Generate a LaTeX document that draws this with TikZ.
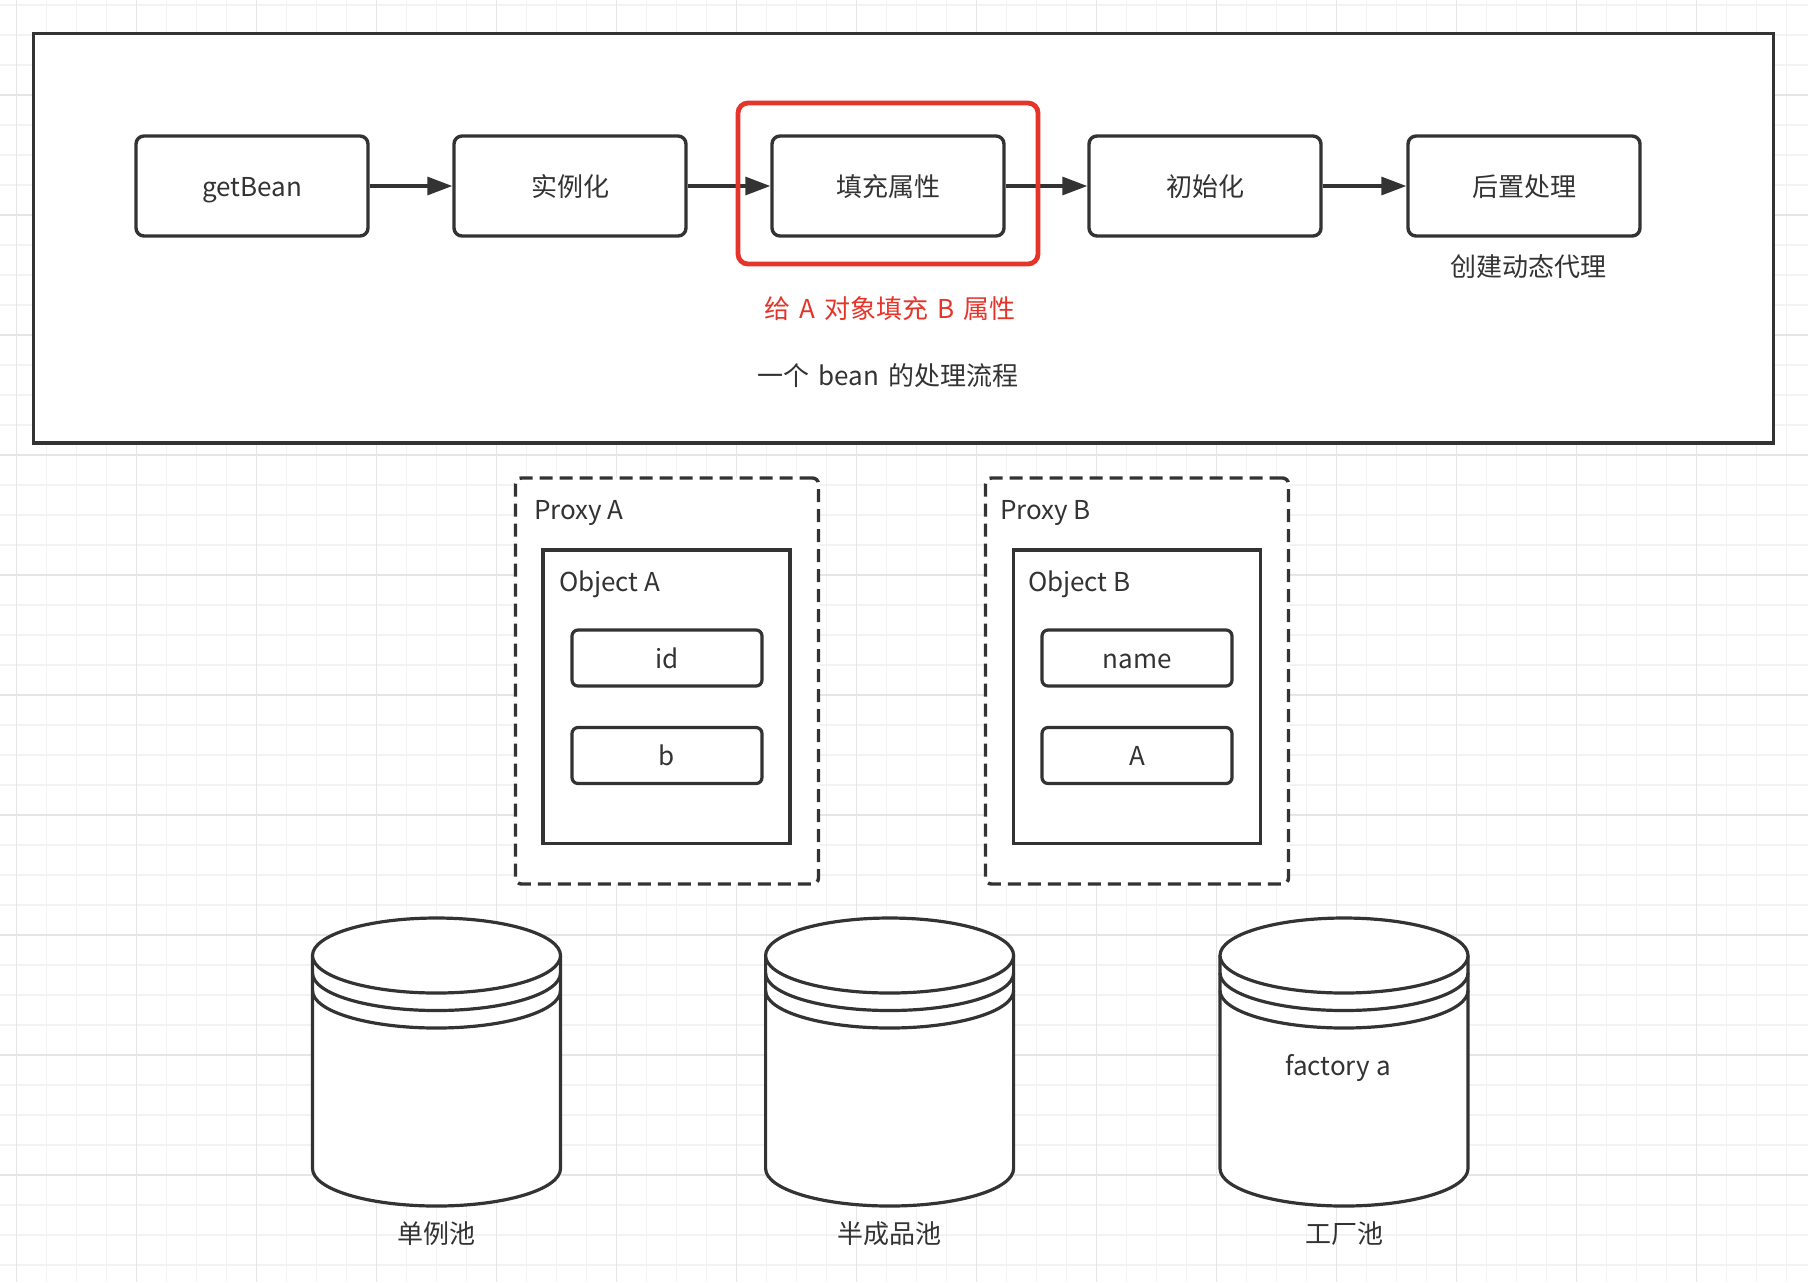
\documentclass[tikz,border=0pt]{standalone}
\usepackage{fontspec}
\setmainfont{Noto Sans CJK SC}
\usetikzlibrary{arrows.meta, positioning}
\definecolor{ink}{HTML}{333333}
\definecolor{hlred}{HTML}{E5352B}
\definecolor{gridmin}{HTML}{F3F3F3}
\definecolor{gridmaj}{HTML}{E6E6E6}
\newcommand{\widespace}{\spaceskip=0.34em\relax}
\tikzset{
  txt/.style={text=ink, font=\fontsize{13}{15}\selectfont, text height=10pt, text depth=0pt},
  wide/.style={execute at begin node=\widespace},
  flowbox/.style={txt, draw=ink, line width=1.7pt, rounded corners=4pt, fill=white, minimum width=116pt, minimum height=50pt},
  hlbox/.style={draw=hlred, line width=2.4pt, rounded corners=5pt, minimum width=150pt, minimum height=80.5pt},
  proxybox/.style={draw=ink, line width=1.7pt, dash pattern=on 6.5pt off 3.5pt, rounded corners=3pt, fill=white, minimum width=151.5pt, minimum height=203pt},
  objbox/.style={draw=ink, line width=1.6pt, fill=white, minimum width=123.5pt, minimum height=146.75pt},
  fieldbox/.style={txt, draw=ink, line width=1.6pt, rounded corners=3pt, fill=white, minimum width=95pt, minimum height=28pt},
  pool/.style={draw=ink, line width=1.6pt, fill=white},
  arr/.style={draw=ink, line width=1.6pt, -{Triangle[length=12.5pt, width=9pt]}}
}
\begin{document}
\begin{tikzpicture}[x=0.5pt, y=-0.5pt]
    \useasboundingbox (0,0) rectangle (1808,1282);
    % grid paper
    \foreach \i in {0,...,60} \draw[gridmin, line width=0.6pt] (16.7+30*\i,0) -- (16.7+30*\i,1282);
    \foreach \j in {0,...,42} \draw[gridmin, line width=0.6pt] (0,5+30*\j) -- (1808,5+30*\j);
    \foreach \i in {0,...,15} \draw[gridmaj, line width=0.7pt] (16.7+120*\i,0) -- (16.7+120*\i,1282);
    \foreach \j in {0,...,10} \draw[gridmaj, line width=0.7pt] (0,95+120*\j) -- (1808,95+120*\j);

    % bean lifecycle
    \node[draw=ink, line width=1.8pt, fill=white, minimum width=870pt, minimum height=204.8pt] (frame) at (903.5,238.2) {};
    \foreach \n/\x/\lab in {get/252/getBean, inst/570/实例化, fill/888/填充属性, init/1205/初始化, post/1524/后置处理} {
        \node[flowbox] (\n) at (\x,186) {\lab};
    }
    \foreach \a/\b in {get/inst, inst/fill, fill/init, init/post} {
        \draw[arr] (\a) -- (\b);
    }
    \node[hlbox] (fillhl) at (888,183.5) {};
    \node[txt, wide, text=hlred] (fillnote) at (890,308) {给 A 对象填充 B 属性};
    \node[txt] (proxynote) at (1528,266) {创建动态代理};
    \node[txt, wide] (caption) at (888,375) {一个 bean 的处理流程};

    % proxies
    \node[proxybox] (proxyA) at (667,681) {};
    \node[txt, anchor=west] (proxyAlab) at (527,509) {Proxy A};
    \node[objbox] (objA) at (666.5,696.75) {};
    \node[txt, anchor=west] (objAlab) at (552,581) {Object A};
    \node[fieldbox] (fid) at (667,658) {id};
    \node[fieldbox] (fb) at (667,755.5) {b};

    \node[proxybox] (proxyB) at (1137,681) {};
    \node[txt, anchor=west] (proxyBlab) at (993,509) {Proxy B};
    \node[objbox] (objB) at (1136.75,696.75) {};
    \node[txt, anchor=west] (objBlab) at (1021,581) {Object B};
    \node[fieldbox] (fname) at (1137,658) {name};
    \node[fieldbox] (fa) at (1137,755.5) {A};

    % pools
    \foreach \cx/\nm/\lab in {436.5/single/单例池, 889.6/half/半成品池, 1344/factory/工厂池} {
        \path[pool] (\cx-124,955.5) -- (\cx-124,1168.5) arc[start angle=180, end angle=0, x radius=124, y radius=37.5] -- (\cx+124,955.5);
        \path[pool] (\cx,955.5) ellipse [x radius=124, y radius=37.5];
        \draw[pool, fill=none] (\cx-124,973) arc[start angle=180, end angle=0, x radius=124, y radius=37.5];
        \draw[pool, fill=none] (\cx-124,990.5) arc[start angle=180, end angle=0, x radius=124, y radius=37.5];
        \node[txt] (\nm) at (\cx,1233) {\lab};
    }
    \node[txt] (facta) at (1338,1065) {factory a};
\end{tikzpicture}
\end{document}
